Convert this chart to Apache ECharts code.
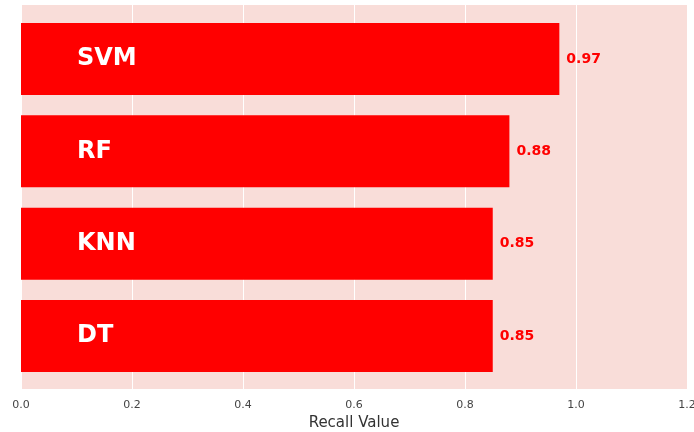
<!DOCTYPE html>
<html>
<head>
<meta charset="utf-8">
<script src="https://cdn.jsdelivr.net/npm/echarts@6/dist/echarts.min.js"></script>
<style>
html, body { margin: 0; padding: 0; background: #fff; }
#main { width: 694px; height: 432px; }
</style>
</head>
<body>
<div id="main"></div>
<script>
// data
let models = ['DT', 'KNN', 'RF', 'SVM']
let recallValues = [0.85, 0.85, 0.88, 0.97]
let xTicks = [0, 0.2, 0.4, 0.6, 0.8, 1.0, 1.2]

let myChart = echarts.init(document.getElementById('main'))

let chartOption = {
	animation: false,
	textStyle: { fontFamily: 'DejaVu Sans' },
	grid: [
		{
			// background + gridlines
			left: 21,
			right: 7,
			top: 5,
			bottom: 43,
			outerBoundsMode: 'none',
			containLabel: false,
			show: true,
			backgroundColor: '#f9ddd9',
			borderWidth: 0
		},
		{
			// bars, padded like matplotlib's margins
			left: 21,
			right: 7,
			top: 12.8,
			bottom: 49.8,
			outerBoundsMode: 'none',
			containLabel: false
		}
	],
	xAxis: [
		{
			type: 'value',
			gridIndex: 0,
			min: xTicks[0],
			max: xTicks[xTicks.length - 1],
			interval: 0.2,
			name: 'Recall Value',
			nameLocation: 'middle',
			nameGap: 24,
			nameTextStyle: { fontSize: 15, color: '#333' },
			axisLine: { show: false },
			axisTick: { show: false },
			axisLabel: {
				fontSize: 11,
				color: '#444',
				margin: 11,
				formatter: function (v) { return v.toFixed(1) }
			},
			splitLine: { show: true, lineStyle: { color: '#ffffff', width: 1 } }
		},
		{
			type: 'value',
			gridIndex: 1,
			min: xTicks[0],
			max: xTicks[xTicks.length - 1],
			show: false
		}
	],
	yAxis: [
		{
			type: 'category',
			gridIndex: 0,
			data: models,
			show: false
		},
		{
			type: 'category',
			gridIndex: 1,
			data: models,
			axisLine: { show: false },
			axisTick: { show: false },
			axisLabel: { show: false },
			splitLine: { show: false }
		}
	],
	series: [
		{
			type: 'bar',
			xAxisIndex: 1,
			yAxisIndex: 1,
			data: recallValues,
			barCategoryGap: '22%',
			itemStyle: { color: '#ff0000' },
			label: {
				show: true,
				position: 'right',
				distance: 7,
				color: '#ff0000',
				fontWeight: 'bold',
				fontSize: 14,
				formatter: function (p) { return p.value.toFixed(2) }
			}
		},
		{
			// category names inside the bars
			type: 'bar',
			xAxisIndex: 1,
			yAxisIndex: 1,
			data: recallValues,
			barGap: '-100%',
			barCategoryGap: '22%',
			itemStyle: { color: 'transparent' },
			silent: true,
			label: {
				show: true,
				position: 'insideLeft',
				distance: 56,
				color: '#ffffff',
				fontWeight: 'bold',
				fontSize: 24,
				formatter: '{b}'
			}
		}
	]
}

myChart.setOption(chartOption)
window.onresize = myChart.resize
</script>
</body>
</html>
